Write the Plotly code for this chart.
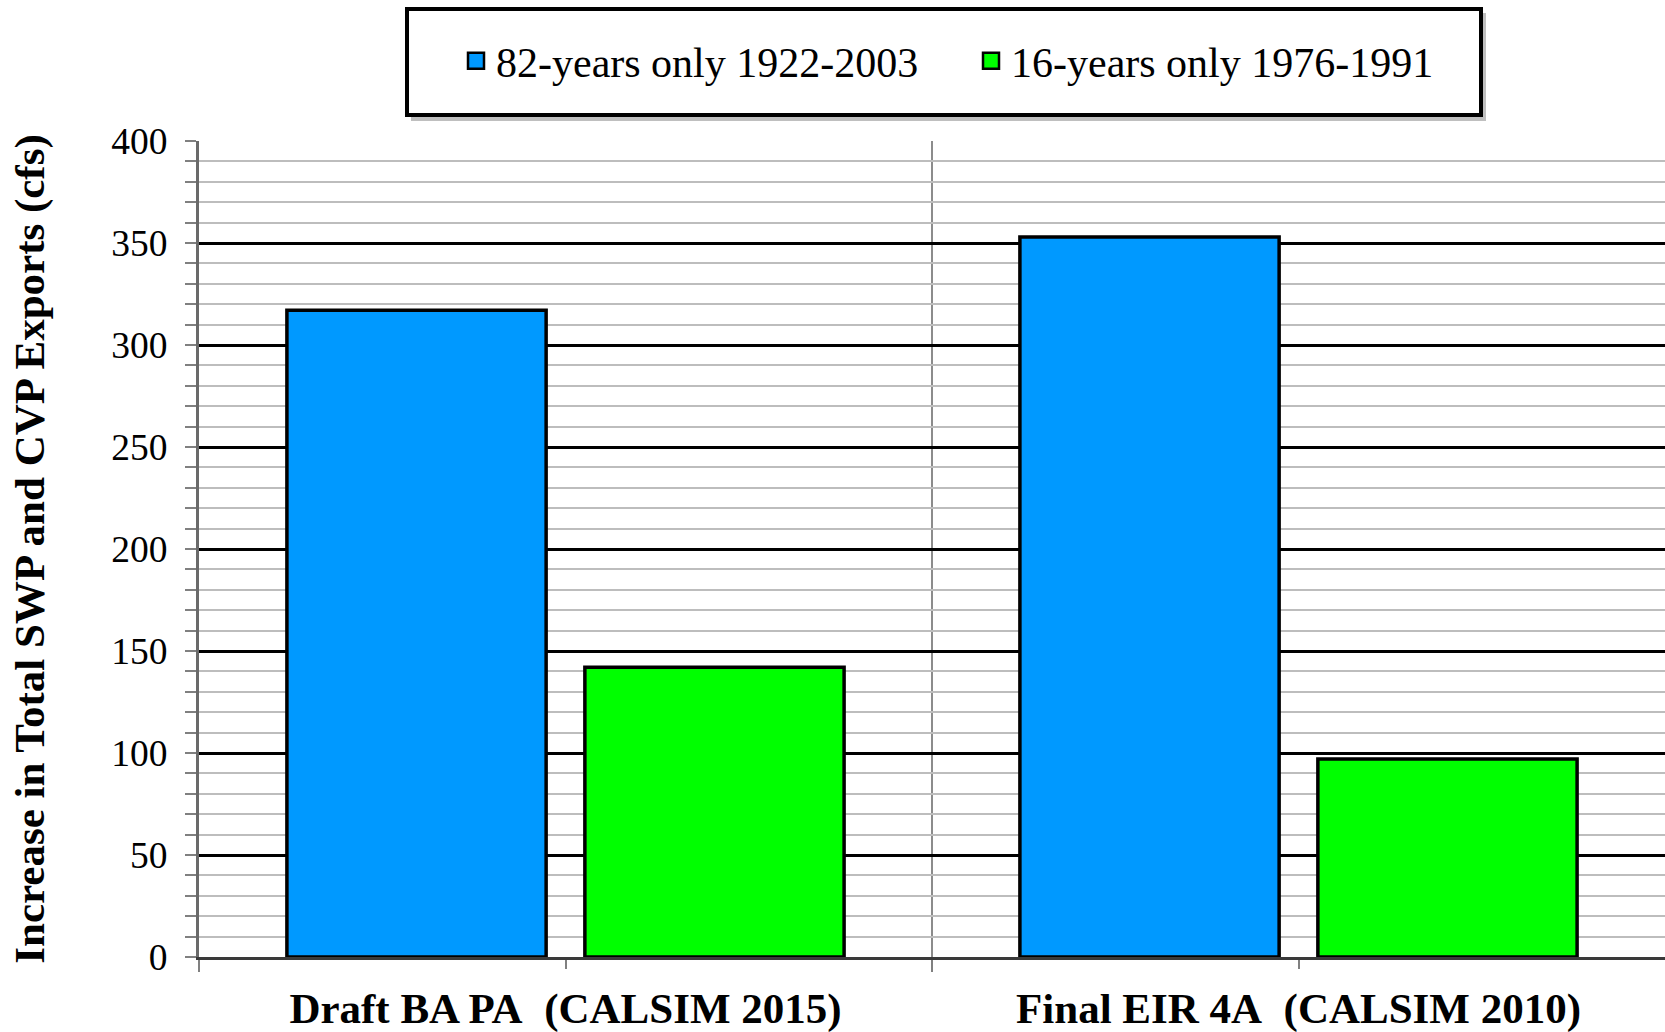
import plotly.graph_objects as go

categories = ["Draft BA PA\u00a0\u00a0(CALSIM 2015)", "Final EIR 4A\u00a0\u00a0(CALSIM 2010)"]
series_names = ["82-years only 1922-2003", "16-years only 1976-1991"]
values_82yr = [317, 353]
values_16yr = [142, 97]
series_colors = ["#0099FF", "#00FF00"]
y_title = "Increase in Total SWP and CVP Exports (cfs)"

x_pos = list(range(len(categories)))
x_bounds = [p - 0.5 for p in x_pos]  # category boundaries (left edges)
W, H = 1665, 1032
L, R, T, B = 199, 0, 141, 75
serif = "Liberation Serif, Times New Roman, serif"

fig = go.Figure()
for name, vals, col in zip(series_names, [values_82yr, values_16yr], series_colors):
    fig.add_trace(go.Bar(
        x=x_pos, y=vals, name=name, marker=dict(color=col, line=dict(color="black", width=3.5)),
        showlegend=False, legendgroup=name))
for name, col in zip(series_names, series_colors):
    fig.add_trace(go.Scatter(
        x=[None], y=[None], mode="markers", name=name, legendgroup=name,
        marker=dict(symbol="square", size=16, color=col, line=dict(color="black", width=2.5))))

pw = W - L - R
ph = H - T - B
def px2paper_x(px):
    return (px - L) / pw
def px2paper_y(py):
    return (H - B - py) / ph

# legend frame with shadow
fig.add_shape(type="rect", xref="paper", yref="paper",
              x0=px2paper_x(411), x1=px2paper_x(1486), y0=px2paper_y(13), y1=px2paper_y(121),
              fillcolor="rgba(0,0,0,0.25)", line=dict(width=0), layer="above")
fig.add_shape(type="rect", xref="paper", yref="paper",
              x0=px2paper_x(407), x1=px2paper_x(1481), y0=px2paper_y(9), y1=px2paper_y(115),
              fillcolor="white", line=dict(color="black", width=4), layer="above")

fig.update_layout(
    width=W, height=H,
    margin=dict(l=L, r=R, t=T, b=B, autoexpand=False),
    paper_bgcolor="white", plot_bgcolor="white",
    barmode="group", bargap=0.187, bargroupgap=0.13,
    font=dict(family=serif, color="black"),
    legend=dict(orientation="h", x=px2paper_x(971), y=px2paper_y(61), xanchor="center", yanchor="middle",
                font=dict(family=serif, size=42, color="black"), bgcolor="rgba(0,0,0,0)",
                itemwidth=30, traceorder="normal", entrywidth=470),
    xaxis=dict(range=[-0.5, len(categories) - 0.5], tickvals=x_pos, ticktext=categories,
               showgrid=False, zeroline=False,
               ticks="outside", ticklen=9, tickcolor="#808080", tickwidth=2,
               showline=True, linecolor="#3a3a3a", linewidth=3,
               tickfont=dict(family=serif, size=43, color="black", weight="bold"),
               ticklabelstandoff=2,
               minor=dict(tickmode="array", tickvals=x_bounds, showgrid=True, gridcolor="#8c8c8c",
                          gridwidth=1.5, ticks="outside", ticklen=12, tickcolor="#808080", tickwidth=2),
               automargin=False, fixedrange=True),
    yaxis=dict(range=[0, 400], dtick=50, showgrid=True, gridcolor="black", gridwidth=3, zeroline=False,
               ticks="outside", ticklen=11, tickcolor="#808080", tickwidth=2,
               showline=True, linecolor="#6a6a6a", linewidth=3,
               tickfont=dict(family=serif, size=37.5, color="black"),
               ticklabelstandoff=10,
               minor=dict(dtick=10, showgrid=True, gridcolor="#bdbdbd", gridwidth=2,
                          ticks="outside", ticklen=11, tickcolor="#808080", tickwidth=2),
               title=dict(text=y_title, font=dict(family=serif, size=43, color="black", weight="bold"),
                          standoff=54),
               automargin=False, fixedrange=True),
)

fig.write_html("out.html", config={"displayModeBar": False},
               post_script="document.body.style.margin='0';document.body.style.overflow='hidden';")
